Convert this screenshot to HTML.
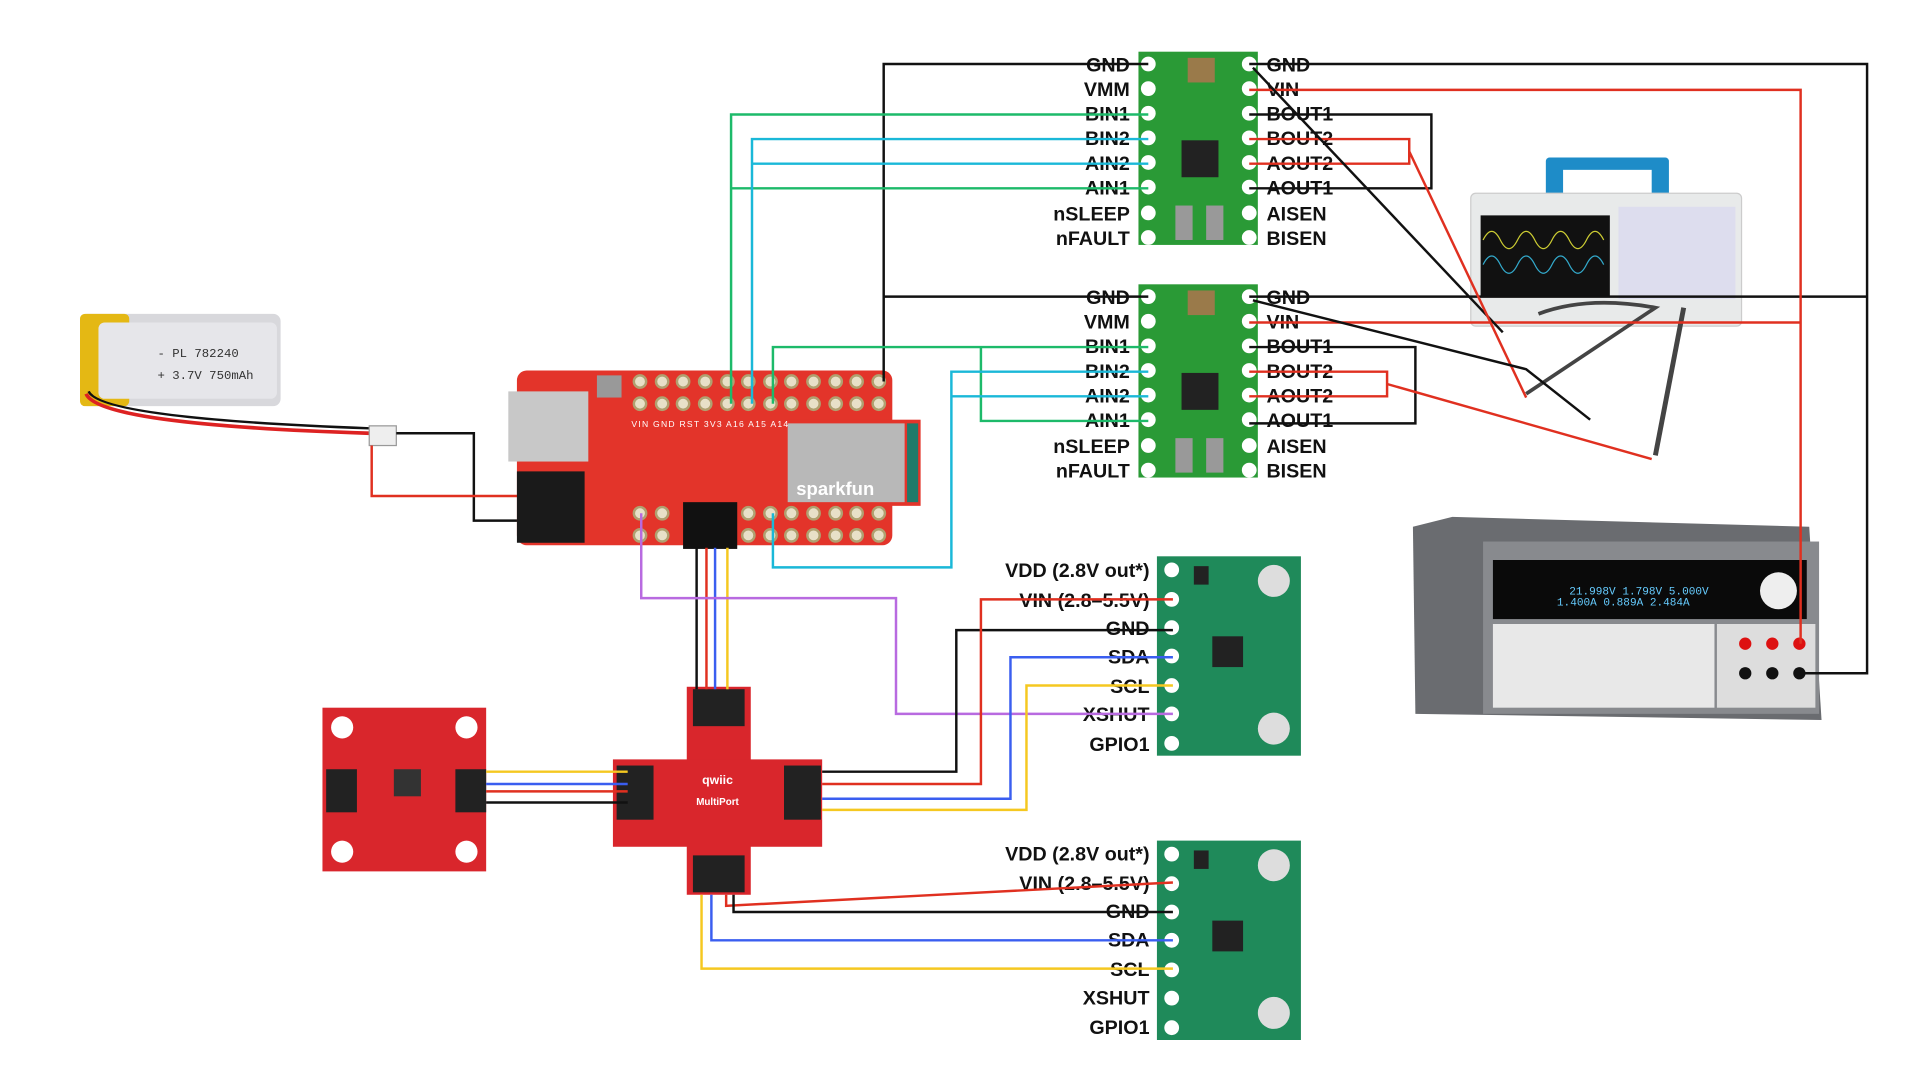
<!DOCTYPE html>
<html><head><meta charset="utf-8"><style>
html,body{margin:0;padding:0;background:#fff;width:1920px;height:1080px;overflow:hidden}
svg{display:block}
.l{font-family:"Liberation Sans",sans-serif;font-weight:bold;font-size:16px;fill:#111}
</style></head><body>
<svg width="1920" height="1080" viewBox="0 0 1560 877.5" preserveAspectRatio="none" xmlns="http://www.w3.org/2000/svg">
<defs>
<g id="drv">
<rect x="0" y="0" width="97" height="157" fill="#2a9a36"/>
<rect x="40" y="5" width="22" height="20" fill="#9a7a4a"/>
<rect x="35" y="72" width="30" height="30" fill="#222"/>
<rect x="30" y="125" width="14" height="28" fill="#999"/>
<rect x="55" y="125" width="14" height="28" fill="#999"/>
<g fill="#fff">
<circle cx="8" cy="10" r="6"/><circle cx="8" cy="30" r="6"/><circle cx="8" cy="50" r="6"/><circle cx="8" cy="70" r="6"/><circle cx="8" cy="90" r="6"/><circle cx="8" cy="110" r="6"/><circle cx="8" cy="131" r="6"/><circle cx="8" cy="151" r="6"/>
<circle cx="90" cy="10" r="6"/><circle cx="90" cy="30" r="6"/><circle cx="90" cy="50" r="6"/><circle cx="90" cy="70" r="6"/><circle cx="90" cy="90" r="6"/><circle cx="90" cy="110" r="6"/><circle cx="90" cy="131" r="6"/><circle cx="90" cy="151" r="6"/>
</g>
</g>
<g id="tof">
<rect x="0" y="0" width="117" height="162" fill="#1f8a5a"/>
<circle cx="95" cy="20" r="13" fill="#ddd"/><circle cx="95" cy="140" r="13" fill="#ddd"/>
<rect x="45" y="65" width="25" height="25" fill="#222"/>
<rect x="30" y="8" width="12" height="15" fill="#222"/>
<g fill="#fff">
<circle cx="12" cy="11" r="6"/><circle cx="12" cy="35" r="6"/><circle cx="12" cy="58" r="6"/><circle cx="12" cy="81" r="6"/><circle cx="12" cy="105" r="6"/><circle cx="12" cy="128" r="6"/><circle cx="12" cy="152" r="6"/>
</g>
</g>
</defs>

<rect x="65" y="255" width="163" height="75" rx="6" fill="#d8d8dc"/>
<rect x="65" y="255" width="40" height="75" rx="4" fill="#e4b814"/>
<rect x="80" y="262" width="145" height="62" rx="5" fill="#e6e6ea"/>
<text x="128" y="290" font-family="Liberation Mono,monospace" font-size="10" fill="#333">- PL 782240</text>
<text x="128" y="308" font-family="Liberation Mono,monospace" font-size="10" fill="#333">+ 3.7V 750mAh</text>
<path d="M70 320 Q80 345 300 352" stroke="#d22" stroke-width="3" fill="none"/>
<path d="M72 318 Q82 340 300 348" stroke="#111" stroke-width="2" fill="none"/>
<rect x="300" y="346" width="22" height="16" fill="#eee" stroke="#999"/>
<polyline points="322,352 385,352 385,423 425,423" stroke="#111" stroke-width="2" fill="none"/>
<polyline points="302,362 302,403 425,403" stroke="#e03020" stroke-width="2" fill="none"/>

<rect x="420" y="301" width="305" height="142" rx="8" fill="#e3342a"/>
<rect x="413" y="318" width="65" height="57" fill="#c8c8c8"/>
<rect x="420" y="383" width="55" height="58" fill="#1a1a1a"/>
<rect x="485" y="305" width="20" height="18" fill="#999"/>
<rect x="640" y="341" width="108" height="70" fill="#e3342a"/>
<rect x="640" y="344" width="95" height="64" fill="#b8b8b8"/>
<rect x="737" y="344" width="9" height="64" fill="#1f7a6a"/>
<text x="647" y="402" font-family="Liberation Sans,sans-serif" font-weight="bold" font-size="15" fill="#fff">sparkfun</text>
<text x="513" y="347" font-family="Liberation Sans,sans-serif" font-size="7" fill="#fff" letter-spacing="1">VIN  GND RST 3V3  A16  A15  A14</text>
<g fill="#e8e0c8" stroke="#b0a070" stroke-width="2">
<circle cx="520" cy="310" r="5"/><circle cx="538" cy="310" r="5"/><circle cx="555" cy="310" r="5"/><circle cx="573" cy="310" r="5"/><circle cx="591" cy="310" r="5"/><circle cx="608" cy="310" r="5"/><circle cx="626" cy="310" r="5"/><circle cx="643" cy="310" r="5"/><circle cx="661" cy="310" r="5"/><circle cx="679" cy="310" r="5"/><circle cx="696" cy="310" r="5"/><circle cx="714" cy="310" r="5"/>
<circle cx="520" cy="328" r="5"/><circle cx="538" cy="328" r="5"/><circle cx="555" cy="328" r="5"/><circle cx="573" cy="328" r="5"/><circle cx="591" cy="328" r="5"/><circle cx="608" cy="328" r="5"/><circle cx="626" cy="328" r="5"/><circle cx="643" cy="328" r="5"/><circle cx="661" cy="328" r="5"/><circle cx="679" cy="328" r="5"/><circle cx="696" cy="328" r="5"/><circle cx="714" cy="328" r="5"/>
<circle cx="520" cy="417" r="5"/><circle cx="538" cy="417" r="5"/><circle cx="608" cy="417" r="5"/><circle cx="626" cy="417" r="5"/><circle cx="643" cy="417" r="5"/><circle cx="661" cy="417" r="5"/><circle cx="679" cy="417" r="5"/><circle cx="696" cy="417" r="5"/><circle cx="714" cy="417" r="5"/>
<circle cx="520" cy="435" r="5"/><circle cx="538" cy="435" r="5"/><circle cx="608" cy="435" r="5"/><circle cx="626" cy="435" r="5"/><circle cx="643" cy="435" r="5"/><circle cx="661" cy="435" r="5"/><circle cx="679" cy="435" r="5"/><circle cx="696" cy="435" r="5"/><circle cx="714" cy="435" r="5"/>
</g>
<rect x="555" y="408" width="44" height="38" fill="#111"/>

<use href="#drv" x="925" y="42"/>
<use href="#drv" x="925" y="231"/>
<g class="l" text-anchor="end">
<text x="918" y="58">GND</text><text x="918" y="78">VMM</text><text x="918" y="98">BIN1</text><text x="918" y="118">BIN2</text><text x="918" y="138">AIN2</text><text x="918" y="158">AIN1</text><text x="918" y="179">nSLEEP</text><text x="918" y="199">nFAULT</text>
<text x="918" y="247">GND</text><text x="918" y="267">VMM</text><text x="918" y="287">BIN1</text><text x="918" y="307">BIN2</text><text x="918" y="327">AIN2</text><text x="918" y="347">AIN1</text><text x="918" y="368">nSLEEP</text><text x="918" y="388">nFAULT</text>
</g>
<g class="l">
<text x="1029" y="58">GND</text><text x="1029" y="78">VIN</text><text x="1029" y="98">BOUT1</text><text x="1029" y="118">BOUT2</text><text x="1029" y="138">AOUT2</text><text x="1029" y="158">AOUT1</text><text x="1029" y="179">AISEN</text><text x="1029" y="199">BISEN</text>
<text x="1029" y="247">GND</text><text x="1029" y="267">VIN</text><text x="1029" y="287">BOUT1</text><text x="1029" y="307">BOUT2</text><text x="1029" y="327">AOUT2</text><text x="1029" y="347">AOUT1</text><text x="1029" y="368">AISEN</text><text x="1029" y="388">BISEN</text>
</g>

<rect x="1256" y="128" width="100" height="32" rx="3" fill="#1e8cc8"/>
<rect x="1270" y="138" width="72" height="22" fill="#fff"/>
<rect x="1195" y="157" width="220" height="108" rx="4" fill="#e8eaea" stroke="#ccc"/>
<rect x="1203" y="175" width="105" height="66" fill="#111"/>
<path d="M1205 195 q7 -14 14 0 t14 0 t14 0 t14 0 t14 0 t14 0 t14 0" stroke="#cc3" fill="none"/>
<path d="M1205 215 q7 -14 14 0 t14 0 t14 0 t14 0 t14 0 t14 0 t14 0" stroke="#3ac" fill="none"/>
<rect x="1315" y="168" width="95" height="75" fill="#dde"/>
<path d="M1250 255 Q1290 240 1345 250 L1240 320" stroke="#444" stroke-width="3" fill="none"/>
<path d="M1368 250 L1345 370" stroke="#444" stroke-width="4" fill="none"/>

<path d="M1148 428 L1180 420 L1470 428 L1480 585 L1150 580 Z" fill="#6a6c70"/>
<rect x="1205" y="440" width="273" height="140" fill="#888a8e"/>
<rect x="1213" y="455" width="255" height="48" fill="#0a0a0a"/>
<text x="1275" y="483" font-family="Liberation Mono,monospace" font-size="9" fill="#6cf">21.998V 1.798V 5.000V</text>
<text x="1265" y="492" font-family="Liberation Mono,monospace" font-size="9" fill="#6cf">1.400A 0.889A 2.484A</text>
<rect x="1213" y="507" width="180" height="68" fill="#e8e8e8"/>
<rect x="1395" y="507" width="80" height="68" fill="#ddd"/>
<circle cx="1445" cy="480" r="15" fill="#eee"/>
<g fill="#d11"><circle cx="1418" cy="523" r="5"/><circle cx="1440" cy="523" r="5"/><circle cx="1462" cy="523" r="5"/></g>
<g fill="#111"><circle cx="1418" cy="547" r="5"/><circle cx="1440" cy="547" r="5"/><circle cx="1462" cy="547" r="5"/></g>

<use href="#tof" x="940" y="452"/>
<use href="#tof" x="940" y="683"/>
<g class="l" text-anchor="end">
<text x="934" y="469">VDD (2.8V out*)</text><text x="934" y="493">VIN (2.8–5.5V)</text><text x="934" y="516">GND</text><text x="934" y="539">SDA</text><text x="934" y="563">SCL</text><text x="934" y="586">XSHUT</text><text x="934" y="610">GPIO1</text>
<text x="934" y="699">VDD (2.8V out*)</text><text x="934" y="723">VIN (2.8–5.5V)</text><text x="934" y="746">GND</text><text x="934" y="769">SDA</text><text x="934" y="793">SCL</text><text x="934" y="816">XSHUT</text><text x="934" y="840">GPIO1</text>
</g>

<rect x="262" y="575" width="133" height="133" fill="#d9262c"/>
<g fill="#fff"><circle cx="278" cy="591" r="9"/><circle cx="379" cy="591" r="9"/><circle cx="278" cy="692" r="9"/><circle cx="379" cy="692" r="9"/></g>
<rect x="320" y="625" width="22" height="22" fill="#333"/>
<rect x="265" y="625" width="25" height="35" fill="#222"/>
<rect x="370" y="625" width="25" height="35" fill="#222"/>

<rect x="558" y="558" width="52" height="169" fill="#d9262c"/>
<rect x="498" y="617" width="170" height="71" fill="#d9262c"/>
<rect x="563" y="560" width="42" height="30" fill="#222"/>
<rect x="563" y="695" width="42" height="30" fill="#222"/>
<rect x="501" y="622" width="30" height="44" fill="#222"/>
<rect x="637" y="622" width="30" height="44" fill="#222"/>
<text x="583" y="637" text-anchor="middle" font-family="Liberation Sans,sans-serif" font-weight="bold" font-size="10" fill="#fff">qwiic</text>
<text x="583" y="654" text-anchor="middle" font-family="Liberation Sans,sans-serif" font-weight="bold" font-size="8" fill="#fff">MultiPort</text>

<g fill="none" stroke-width="2">
<polyline points="933,52 718,52 718,310" stroke="#111"/>
<polyline points="933,241 718,241" stroke="#111"/>
<polyline points="933,93 594,93 594,328" stroke="#1dba6a"/>
<polyline points="933,153 594,153" stroke="#1dba6a"/>
<polyline points="933,113 611,113 611,328" stroke="#1ab8d8"/>
<polyline points="933,133 611,133" stroke="#1ab8d8"/>
<polyline points="933,282 628,282 628,328" stroke="#1dba6a"/>
<polyline points="797,282 797,342 933,342" stroke="#1dba6a"/>
<polyline points="933,302 773,302 773,461 628,461 628,417" stroke="#1ab8d8"/>
<polyline points="933,322 773,322" stroke="#1ab8d8"/>
<polyline points="1015,52 1517,52 1517,547 1462,547" stroke="#111"/>
<polyline points="1015,241 1517,241" stroke="#111"/>
<polyline points="1015,73 1463,73 1463,523" stroke="#e03020"/>
<polyline points="1015,262 1463,262" stroke="#e03020"/>
<polyline points="1015,93 1163,93 1163,153 1015,153" stroke="#111"/>
<polyline points="1015,113 1145,113 1145,133 1015,133" stroke="#e03020"/>
<polyline points="1015,282 1150,282 1150,344 1015,344" stroke="#111"/>
<polyline points="1015,302 1127,302 1127,322 1015,322" stroke="#e03020"/>
<line x1="1018" y1="55" x2="1221" y2="270" stroke="#111"/>
<line x1="1145" y1="123" x2="1240" y2="323" stroke="#e03020"/>
<polyline points="1018,244 1240,300 1292,341" stroke="#111"/>
<line x1="1127" y1="312" x2="1342" y2="373" stroke="#e03020"/>
<line x1="566" y1="445" x2="566" y2="560" stroke="#111"/>
<line x1="574" y1="445" x2="574" y2="560" stroke="#e03020"/>
<line x1="581" y1="445" x2="581" y2="560" stroke="#3a5ef0"/>
<line x1="591" y1="445" x2="591" y2="560" stroke="#f5c820"/>
<polyline points="521,417 521,486 728,486 728,580 953,580" stroke="#b86ae0"/>
<line x1="395" y1="627" x2="510" y2="627" stroke="#f5c820"/>
<line x1="395" y1="637" x2="510" y2="637" stroke="#3a5ef0"/>
<line x1="395" y1="643" x2="510" y2="643" stroke="#e03020"/>
<line x1="395" y1="652" x2="510" y2="652" stroke="#111"/>
<polyline points="668,627 777,627 777,512 953,512" stroke="#111"/>
<polyline points="668,637 797,637 797,487 953,487" stroke="#e03020"/>
<polyline points="668,649 821,649 821,534 953,534" stroke="#3a5ef0"/>
<polyline points="668,658 834,658 834,557 953,557" stroke="#f5c820"/>
<polyline points="590,727 590,736 953,717" stroke="#e03020"/>
<polyline points="596,727 596,741 953,741" stroke="#111"/>
<polyline points="578,727 578,764 953,764" stroke="#3a5ef0"/>
<polyline points="570,727 570,787 953,787" stroke="#f5c820"/>
</g>
</svg>
</body></html>
